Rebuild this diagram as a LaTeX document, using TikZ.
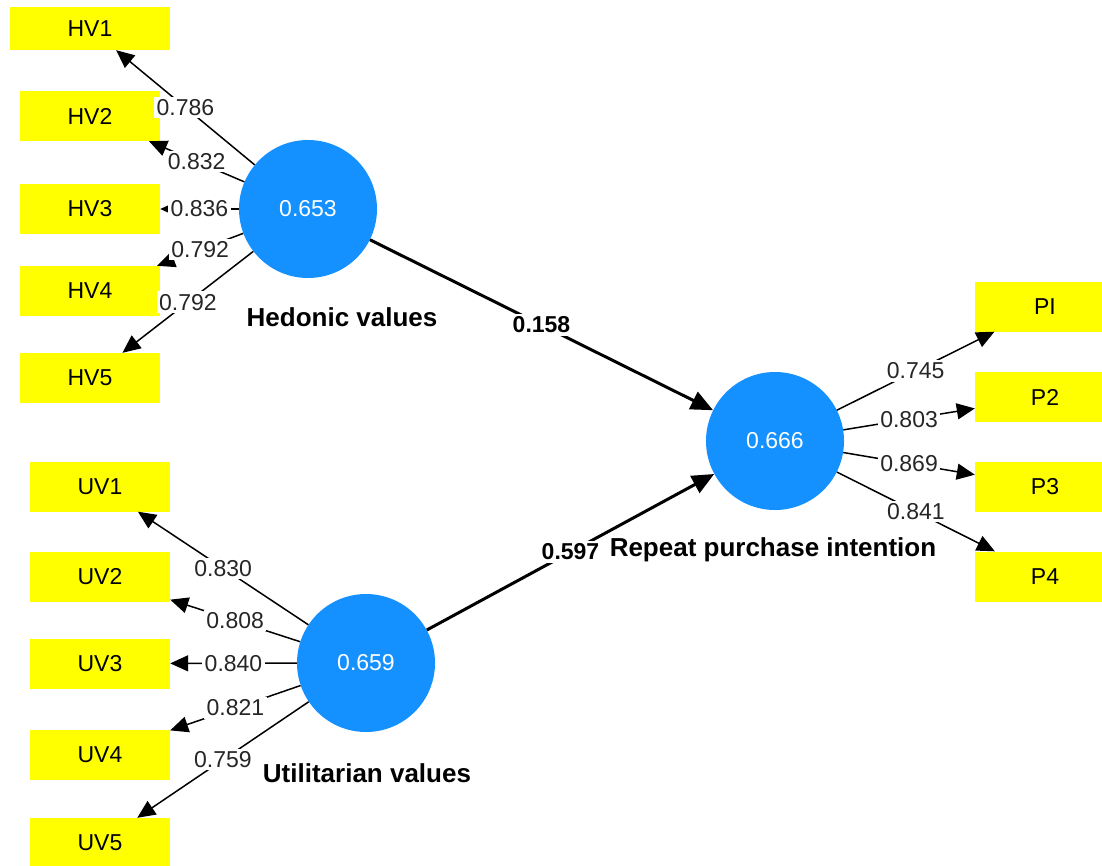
\documentclass[tikz,border=0pt]{standalone}
\usepackage{fontspec}
\setmainfont{Liberation Sans}
\usetikzlibrary{arrows.meta}
\definecolor{lvblue}{RGB}{20,145,255}
\definecolor{mvyellow}{RGB}{255,255,0}
\begin{document}
\begin{tikzpicture}[
    x=1pt, y=-1pt,
    every node/.style={font=\fontsize{23}{27}\selectfont},
    latent/.style={circle, fill=lvblue, minimum size=138pt, inner sep=0pt, text=white},
    item/.style={rectangle, fill=mvyellow, minimum width=140pt, minimum height=50pt, inner sep=0pt},
    lvname/.style={font=\fontsize{26}{30}\selectfont\bfseries},
    loading/.style={line width=1.5pt, -{Triangle[length=18pt,width=16pt]}},
    structural/.style={line width=3pt, -{Triangle[length=22pt,width=19pt]}},
    weight/.style={pos=0.5, fill=white, inner sep=2.5pt, text=black!85},
    pathweight/.style={pos=0.5, fill=white, inner sep=3pt, font=\fontsize{23}{27}\selectfont\bfseries}
  ]
    \useasboundingbox (0,0) rectangle (1102,865);
    \fill[white] (0,0) rectangle (1102,865);

    % latent variables
    \node[latent] (hed) at (308,209) {0.653};
    \node[latent] (uti) at (366,663) {0.659};
    \node[latent] (rep) at (775,441) {0.666};
    \node[lvname] at (342,317) {Hedonic values};
    \node[lvname] at (367,773) {Utilitarian values};
    \node[lvname] at (773,550) {Repeat purchase intention};

    % indicators
    \node[item, minimum width=160pt, minimum height=43pt] (hv1) at (90,28.5) {HV1};
    \node[item] (hv2) at (90,116) {HV2};
    \node[item] (hv3) at (90,209) {HV3};
    \node[item] (hv4) at (90,291) {HV4};
    \node[item] (hv5) at (90,378) {HV5};
    \node[item] (uv1) at (100,486.5) {UV1};
    \node[item] (uv2) at (100,577) {UV2};
    \node[item] (uv3) at (100,663.5) {UV3};
    \node[item] (uv4) at (100,754.5) {UV4};
    \node[item] (uv5) at (100,843) {UV5};
    \node[item] (pi) at (1045,306.5) {PI};
    \node[item] (p2) at (1045,397) {P2};
    \node[item] (p3) at (1045,486.5) {P3};
    \node[item] (p4) at (1045,576.5) {P4};

    % outer loadings
    \draw[loading] (hed) -- node[weight] {0.786} (hv1);
    \draw[loading] (hed) -- node[weight] {0.832} (hv2);
    \draw[loading] (hed) -- node[weight] {0.836} (hv3);
    \draw[loading] (hed) -- node[weight] {0.792} (hv4);
    \draw[loading] (hed) -- node[weight] {0.792} (hv5);
    \draw[loading] (uti) -- node[weight] {0.830} (uv1);
    \draw[loading] (uti) -- node[weight] {0.808} (uv2);
    \draw[loading] (uti) -- node[weight] {0.840} (uv3);
    \draw[loading] (uti) -- node[weight] {0.821} (uv4);
    \draw[loading] (uti) -- node[weight] {0.759} (uv5);
    \draw[loading] (rep) -- node[weight] {0.745} (pi);
    \draw[loading] (rep) -- node[weight] {0.803} (p2);
    \draw[loading] (rep) -- node[weight] {0.869} (p3);
    \draw[loading] (rep) -- node[weight] {0.841} (p4);

    % path coefficients
    \draw[structural] (hed) -- node[pathweight] {0.158} (rep);
    \draw[structural] (uti) -- node[pathweight] {0.597} (rep);
\end{tikzpicture}
\end{document}
